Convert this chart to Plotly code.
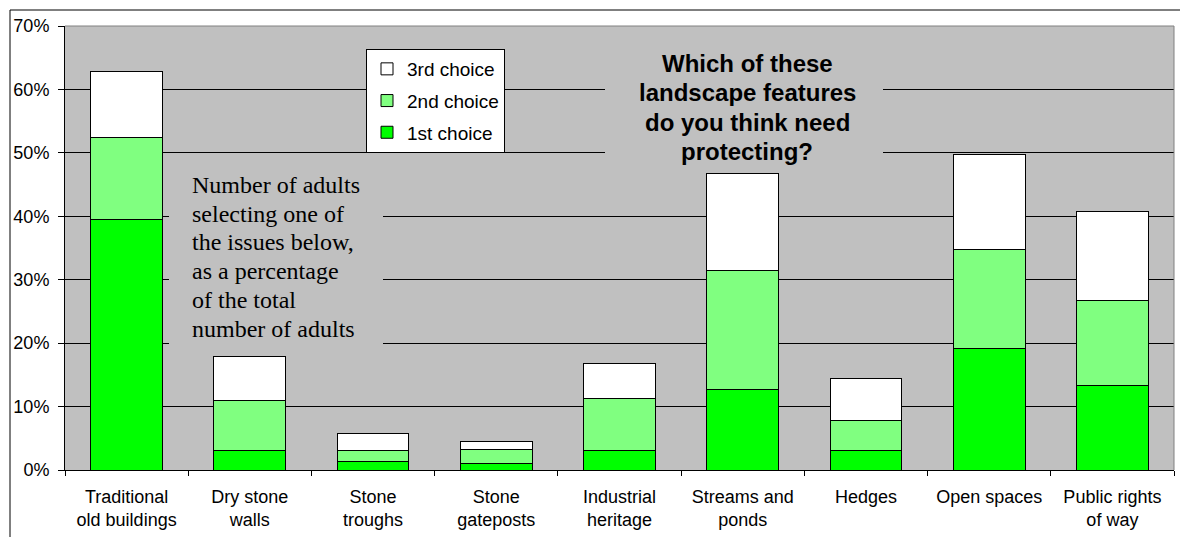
import plotly.graph_objects as go

# values (% of adults), stacked 1st/2nd/3rd choice
categories = ['Traditional<br>old buildings', 'Dry stone<br>walls', 'Stone<br>troughs',
              'Stone<br>gateposts', 'Industrial<br>heritage', 'Streams and<br>ponds',
              'Hedges', 'Open spaces', 'Public rights<br>of way']
first_choice = [39.5, 3.0, 1.4, 1.1, 3.0, 12.7, 3.0, 19.1, 13.4]
second_choice = [12.9, 7.9, 1.6, 2.2, 8.3, 18.8, 4.8, 15.7, 13.3]
third_choice = [10.4, 7.0, 2.7, 1.2, 5.5, 15.3, 6.6, 15.0, 14.1]

note_lines = ['Number of adults', 'selecting one of', 'the issues below,',
              'as a percentage', 'of the total', 'number of adults']
title_lines = ['Which of these', 'landscape features', 'do you think need', 'protecting?']

SANS = 'Liberation Sans, Arial, sans-serif'
SERIF = 'Liberation Serif, Times New Roman, serif'

# plot area in pixels (for placing the text boxes)
L, R, T, B = 65, 1174, 26, 470


def px_x(x):
    return (x - L) / (R - L)


def px_y(y):
    return 1 - (y - T) / (B - T)


fig = go.Figure()
series = [('1st choice', first_choice, '#00FF00', 3),
          ('2nd choice', second_choice, '#80FF80', 2),
          ('3rd choice', third_choice, '#FFFFFF', 1)]
for name, vals, col, rank in series:
    fig.add_trace(go.Bar(
        x=categories, y=vals, name=name, legendgroup=name, legendrank=rank,
        marker=dict(color=col, line=dict(color='black', width=1)),
    ))

# grey boxes behind the text, hiding the gridlines
for x0, x1, y0, y1 in [(169, 383, 162, 348), (605, 883, 40, 168)]:
    fig.add_shape(type='rect', xref='paper', yref='paper', layer='above',
                  x0=px_x(x0), x1=px_x(x1), y0=px_y(y1), y1=px_y(y0),
                  fillcolor='#C0C0C0', line=dict(width=0))

for i, txt in enumerate(note_lines):
    fig.add_annotation(text=txt, xref='paper', yref='paper', showarrow=False,
                       x=px_x(190), y=px_y(185 + 28.7 * i), xanchor='left', yanchor='middle',
                       font=dict(family=SERIF, size=24, color='black'))

for i, txt in enumerate(title_lines):
    fig.add_annotation(text='<b>' + txt + '</b>', xref='paper', yref='paper', showarrow=False,
                       x=px_x(747), y=px_y(63 + 29.5 * i), xanchor='center', yanchor='middle',
                       font=dict(family=SANS, size=24, color='black'))

# grey top and right border of the plot area
fig.add_shape(type='line', xref='paper', yref='paper', x0=0, x1=1, y0=1, y1=1,
              line=dict(color='#808080', width=1))
fig.add_shape(type='line', xref='paper', yref='paper', x0=1, x1=1, y0=0, y1=1,
              line=dict(color='#808080', width=1))
# outer chart frame
fig.add_shape(type='rect', xref='paper', yref='paper', x0=px_x(10), x1=px_x(1300),
              y0=px_y(700), y1=px_y(10), line=dict(color='black', width=1),
              fillcolor='rgba(0,0,0,0)')

fig.update_layout(
    barmode='stack',
    bargap=0.418,
    width=1180, height=537,
    margin=dict(l=L, r=1180 - R, t=T, b=537 - B, autoexpand=False),
    paper_bgcolor='white',
    plot_bgcolor='#C0C0C0',
    font=dict(family=SANS, size=18, color='black'),
    legend=dict(
        x=px_x(366), y=px_y(49), xanchor='left', yanchor='top',
        bgcolor='white', bordercolor='black', borderwidth=1,
        traceorder='grouped', tracegroupgap=4,
        font=dict(family=SANS, size=19, color='black'),
    ),
    showlegend=True,
)
fig.update_xaxes(
    showgrid=False, showline=True, linecolor='black', linewidth=1,
    ticks='outside', tickson='boundaries', ticklen=5, tickcolor='black',
    ticklabelstandoff=10, tickfont=dict(size=18),
)
fig.update_yaxes(
    range=[0, 70], dtick=10, ticksuffix='%',
    showgrid=True, gridcolor='black', gridwidth=1,
    showline=True, linecolor='black', linewidth=1,
    ticks='outside', ticklen=6, tickcolor='black',
    ticklabelstandoff=5, tickfont=dict(size=18), zeroline=False,
)

# drop the default page margin so the chart sits at the window's corner
fig.write_html('out.html', config={'displayModeBar': False},
               post_script="document.body.style.margin='0';")
